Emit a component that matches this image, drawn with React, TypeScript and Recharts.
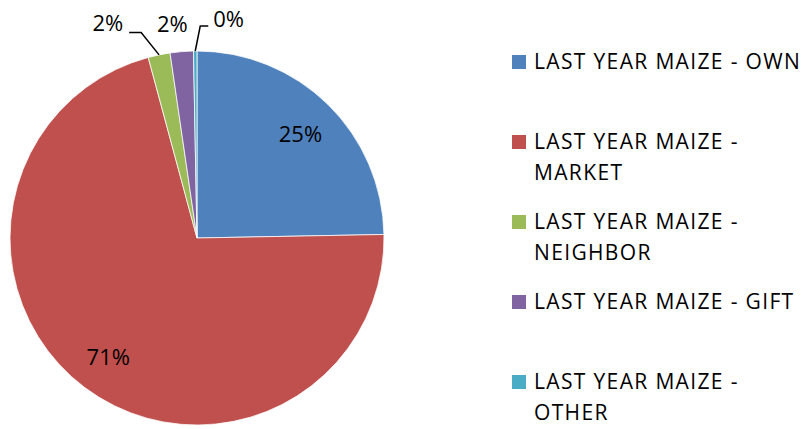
import React from "react";
import { PieChart, Pie, Cell, Legend } from "recharts";

const categories = [
  "LAST YEAR MAIZE - OWN",
  "LAST YEAR MAIZE - MARKET",
  "LAST YEAR MAIZE - NEIGHBOR",
  "LAST YEAR MAIZE - GIFT",
  "LAST YEAR MAIZE - OTHER",
];
const shares = [24.7, 71.1, 1.9, 2.0, 0.3];
const colors = ["#4F81BD", "#C0504D", "#9BBB59", "#8064A2", "#4BACC6"];

const data = categories.map((name, i) => ({ name, value: shares[i] }));

const FONT = "'Open Sans', sans-serif";
const LABEL_SIZE = 22;
const RAD = Math.PI / 180;

const renderLabel = (props: any) => {
  const { cx, cy, midAngle, outerRadius, percent, index } = props;
  const text = `${Math.round(percent * 100)}%`;
  const cos = Math.cos(-midAngle * RAD);
  const sin = Math.sin(-midAngle * RAD);

  // big slices: label inside
  if (percent > 0.1) {
    const r = outerRadius * 0.79;
    return (
      <text x={cx + r * cos} y={cy + r * sin} textAnchor="middle" dominantBaseline="central"
        fontFamily={FONT} fontSize={LABEL_SIZE} fill="#000">
        {text}
      </text>
    );
  }

  const x0 = cx + outerRadius * cos;
  const y0 = cy + outerRadius * sin;

  if (index === 2) {
    // leader line going up-left
    const a = (-midAngle - 3.5) * RAD;
    const x1 = cx + (outerRadius + 26) * Math.cos(a);
    const y1 = cy + (outerRadius + 26) * Math.sin(a);
    const x2 = x1 - 12;
    return (
      <g>
        <polyline points={`${x0},${y0} ${x1},${y1} ${x2},${y1}`} fill="none" stroke="#000" strokeWidth={1.5} />
        <text x={x2 - 6} y={y1 - 10} textAnchor="end" dominantBaseline="central"
          fontFamily={FONT} fontSize={LABEL_SIZE} fill="#000">{text}</text>
      </g>
    );
  }
  if (index === 4) {
    const x1 = x0 + 5;
    const y1 = y0 - 25;
    const x2 = x1 + 8;
    return (
      <g>
        <polyline points={`${x0},${y0} ${x1},${y1} ${x2},${y1}`} fill="none" stroke="#000" strokeWidth={1.5} />
        <text x={x2 + 5} y={y1 - 8} textAnchor="start" dominantBaseline="central"
          fontFamily={FONT} fontSize={LABEL_SIZE} fill="#000">{text}</text>
      </g>
    );
  }
  // gift: plain label above the slice
  const r = outerRadius + 30;
  return (
    <text x={cx + r * cos - 7} y={cy + r * sin + 1} textAnchor="middle" dominantBaseline="central"
      fontFamily={FONT} fontSize={LABEL_SIZE} fill="#000">
      {text}
    </text>
  );
};

const CustomLegend = () => (
  <div style={{ fontFamily: FONT, fontSize: 21, letterSpacing: 1.35, color: "#000" }}>
    {categories.map((name, i) => (
      <div key={name} style={{ display: "flex", alignItems: "flex-start", height: 80 }}>
        <div style={{ width: 14, height: 14, background: colors[i], marginTop: 9, marginRight: 8, flexShrink: 0 }} />
        <div style={{ lineHeight: "31px", width: 271 }}>{name}</div>
      </div>
    ))}
  </div>
);

export default function App() {
  return (
    <div style={{ position: "absolute", left: 0, top: 0, background: "#fff" }}>
      <PieChart width={805} height={429} margin={{ top: 0, right: 0, bottom: 0, left: 0 }}>
        <Pie
          data={data}
          dataKey="value"
          nameKey="name"
          cx={197}
          cy={238}
          outerRadius={187}
          startAngle={90}
          endAngle={-270}
          stroke="#fff"
          strokeWidth={0.75}
          label={renderLabel}
          labelLine={false}
          isAnimationActive={false}
        >
          {data.map((d, i) => (
            <Cell key={d.name} fill={colors[i]} />
          ))}
        </Pie>
        <Legend
          content={<CustomLegend />}
          wrapperStyle={{ left: 512, top: 46, width: 293 }}
        />
      </PieChart>
    </div>
  );
}
